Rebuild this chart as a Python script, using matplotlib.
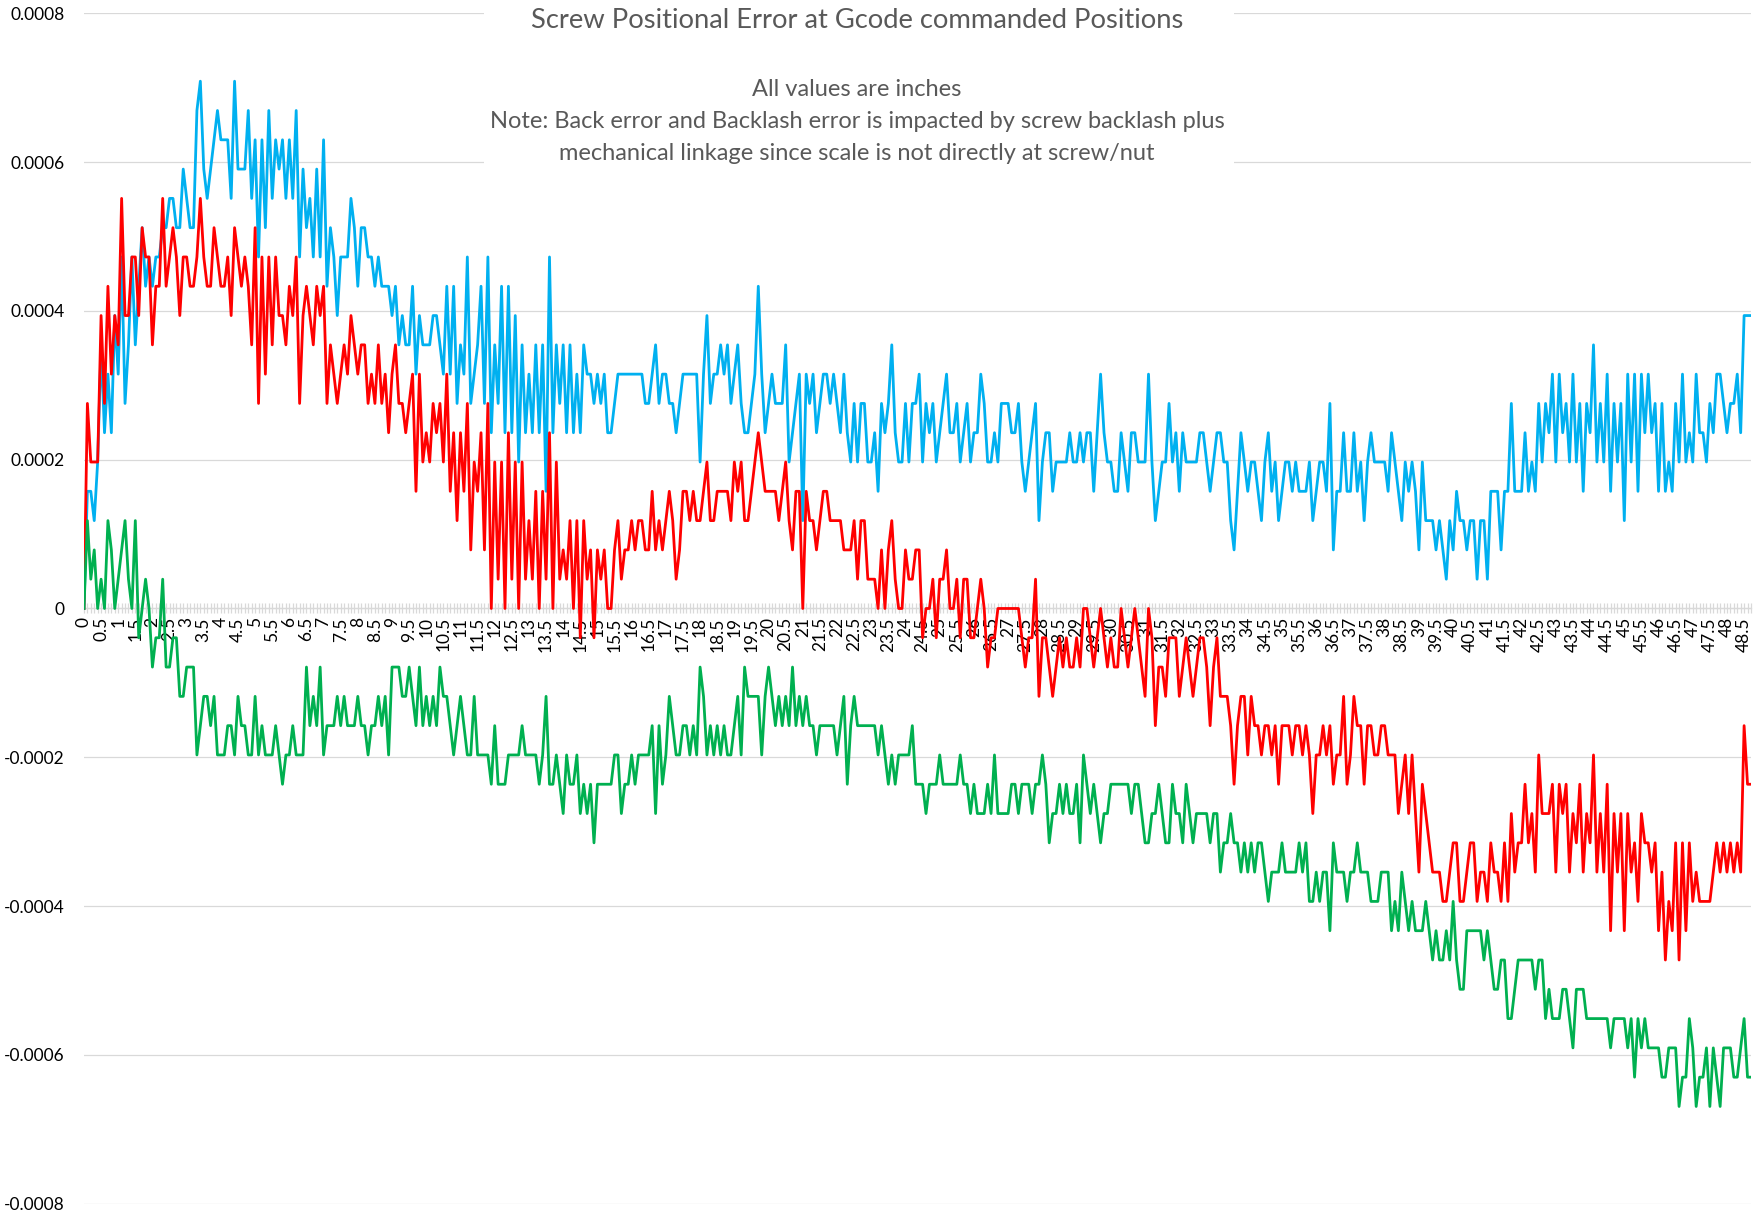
import numpy as np
import matplotlib
matplotlib.use("Agg")
import matplotlib.pyplot as plt
from matplotlib.patches import Rectangle
from matplotlib.ticker import FixedLocator, MultipleLocator

plt.rcParams['font.family'] = ['Lato', 'DejaVu Sans']

# positional error, in microns, one reading every 0.1 in
forward_um = [
    0, 4, 4, 3, 5, 9, 6, 8, 6, 10,
    8, 12, 7, 9, 12, 9, 11, 13, 11, 12,
    11, 12, 12, 13, 13, 14, 14, 13, 13, 15,
    14, 13, 13, 17, 18, 15, 14, 15, 16, 17,
    16, 16, 16, 14, 18, 15, 15, 15, 17, 14,
    16, 12, 16, 13, 17, 14, 16, 15, 16, 14,
    16, 14, 17, 12, 15, 13, 14, 12, 15, 12,
    16, 11, 13, 12, 10, 12, 12, 12, 14, 13,
    11, 13, 13, 12, 12, 11, 12, 11, 11, 11,
    10, 11, 9, 10, 9, 9, 11, 8, 10, 9,
    9, 9, 10, 10, 9, 8, 11, 8, 11, 7,
    9, 8, 12, 7, 8, 9, 11, 7, 12, 6,
    9, 7, 11, 6, 11, 6, 10, 5, 9, 6,
    8, 6, 9, 6, 9, 4, 12, 6, 9, 7,
    9, 6, 9, 6, 8, 6, 9, 8, 8, 7,
    8, 7, 8, 6, 6, 7, 8, 8, 8, 8,
    8, 8, 8, 8, 7, 7, 8, 9, 7, 8,
    8, 7, 7, 6, 7, 8, 8, 8, 8, 8,
    5, 8, 10, 7, 8, 8, 9, 8, 9, 7,
    8, 9, 7, 6, 6, 7, 8, 11, 8, 6,
    7, 8, 7, 7, 7, 9, 5, 6, 7, 8,
    3, 8, 7, 8, 6, 7, 8, 8, 7, 8,
    7, 6, 8, 6, 5, 7, 5, 7, 7, 5,
    5, 6, 4, 7, 6, 7, 9, 6, 5, 5,
    7, 5, 7, 7, 8, 5, 7, 6, 7, 5,
    6, 7, 8, 6, 6, 7, 5, 6, 7, 5,
    6, 6, 8, 7, 5, 5, 6, 5, 7, 7,
    7, 6, 6, 7, 5, 4, 5, 6, 7, 3,
    5, 6, 6, 4, 5, 5, 5, 5, 6, 5,
    5, 6, 5, 6, 6, 4, 6, 8, 6, 5,
    5, 4, 4, 6, 5, 4, 6, 6, 5, 5,
    5, 8, 5, 3, 4, 5, 5, 7, 5, 6,
    4, 6, 5, 5, 5, 5, 6, 6, 5, 4,
    5, 6, 6, 5, 5, 3, 2, 4, 6, 5,
    4, 5, 5, 4, 3, 5, 6, 4, 5, 3,
    4, 5, 5, 4, 5, 4, 4, 4, 5, 3,
    4, 5, 5, 4, 7, 2, 4, 4, 6, 4,
    4, 6, 4, 5, 3, 5, 6, 5, 5, 5,
    5, 4, 6, 5, 4, 3, 5, 4, 5, 4,
    2, 5, 3, 3, 3, 2, 3, 2, 1, 3,
    2, 4, 3, 3, 2, 3, 3, 1,
    3, 3, 1, 4, 4, 4, 2, 4, 4, 7,
    4, 4, 4, 6, 4, 5, 4, 7, 5, 7,
    6, 8, 5, 8, 6, 7, 5, 8, 5, 7,
    4, 7, 6, 9, 5, 7, 5, 8, 4, 7,
    5, 7, 3, 8, 5, 8, 4, 8, 6, 8,
    6, 7, 4, 7, 4, 5, 4, 7, 5, 8,
    5, 6, 5, 8, 6, 6, 5, 7, 6, 8,
    8, 7, 6, 7, 7, 8, 6, 10, 10, 10,
]

back_um = [
    0, 7, 5, 5, 5, 10, 7, 11, 8, 10,
    9, 14, 10, 10, 12, 12, 10, 13, 12, 12,
    9, 11, 11, 14, 11, 12, 13, 12, 10, 12,
    12, 11, 11, 12, 14, 12, 11, 11, 13, 12,
    11, 11, 12, 10, 13, 12, 11, 12, 11, 9,
    13, 7, 12, 8, 12, 9, 12, 10, 10, 9,
    11, 10, 12, 7, 10, 11, 10, 9, 11, 10,
    11, 7, 9, 8, 7, 8, 9, 8, 10, 9,
    8, 9, 9, 7, 8, 7, 9, 7, 8, 6,
    8, 9, 7, 7, 6, 7, 8, 4, 8, 5,
    6, 5, 7, 6, 7, 5, 8, 4, 6, 3,
    6, 4, 7, 2, 5, 4, 6, 2, 7, 0,
    5, 1, 5, 0, 6, 1, 5, 0, 5, 1,
    3, 1, 4, 0, 4, 1, 6, 0, 5, 1,
    2, 1, 3, 0, 3, -1, 3, 1, 2, -1,
    2, 1, 2, 0, 0, 2, 3, 1, 2, 2,
    3, 2, 3, 3, 2, 2, 4, 2, 3, 2,
    3, 4, 3, 1, 2, 4, 4, 3, 4, 3,
    3, 4, 5, 3, 3, 4, 4, 4, 4, 3,
    5, 4, 5, 3, 3, 4, 5, 6, 5, 4,
    4, 4, 4, 3, 4, 5, 3, 2, 4, 4,
    0, 4, 3, 3, 2, 3, 4, 4, 3, 3,
    3, 3, 2, 2, 2, 3, 1, 3, 3, 1,
    1, 1, 0, 2, 0, 2, 3, 1, 0, 0,
    2, 1, 1, 2, 2, -1, 0, 0, 1, -1,
    1, 1, 2, 0, 0, 1, -1, 1, 1, -1,
    -1, 0, 1, 0, -2, -1, -1, 0, 0, 0,
    0, 0, 0, 0, -1, -2, -1, -1, 1, -3,
    -1, -1, -2, -3, -2, -1, -2, -1, -2, -2,
    -1, -2, 0, 0, -1, -2, -1, 0, -1, -2,
    -1, -2, -2, 0, -1, -2, -1, 0, -1, -2,
    -3, 0, -1, -4, -2, -2, -3, -1, -1, -1,
    -3, -2, -1, -2, -3, -2, -1, -1, -2, -4,
    -2, -1, -3, -3, -3, -4, -6, -4, -3, -3,
    -5, -3, -4, -4, -5, -4, -4, -5, -4, -6,
    -4, -4, -4, -5, -4, -4, -5, -4, -5, -7,
    -5, -5, -4, -5, -4, -6, -5, -5, -3, -6,
    -5, -3, -4, -4, -6, -4, -4, -5, -5, -4,
    -4, -5, -5, -5, -7, -6, -5, -7, -5, -7,
    -9, -6, -7, -8, -9, -9, -9, -10, -10, -9,
    -8, -8, -10, -10, -9, -8, -8, -10,
    -9, -9, -10, -8, -9, -9, -10, -8, -10, -7,
    -9, -8, -8, -6, -8, -7, -9, -5, -7, -7,
    -7, -6, -9, -6, -7, -6, -9, -7, -8, -6,
    -9, -7, -8, -5, -9, -7, -9, -6, -11, -7,
    -9, -7, -11, -7, -9, -8, -10, -7, -8, -8,
    -9, -8, -11, -9, -12, -10, -11, -8, -12, -8,
    -11, -8, -10, -9, -10, -10, -10, -10, -9, -8,
    -9, -8, -9, -8, -9, -8, -9, -4, -6, -6,
]

backlash_um = [
    0, 3, 1, 2, 0, 1, 0, 3, 2, 0,
    1, 2, 3, 1, 0, 3, -1, 0, 1, 0,
    -2, -1, -1, 1, -2, -2, -1, -1, -3, -3,
    -2, -2, -2, -5, -4, -3, -3, -4, -3, -5,
    -5, -5, -4, -4, -5, -3, -4, -4, -5, -5,
    -3, -5, -4, -5, -5, -5, -4, -5, -6, -5,
    -5, -4, -5, -5, -5, -2, -4, -3, -4, -2,
    -5, -4, -4, -4, -3, -4, -3, -4, -4, -4,
    -3, -4, -4, -5, -4, -4, -3, -4, -3, -5,
    -2, -2, -2, -3, -3, -2, -3, -4, -2, -4,
    -3, -4, -3, -4, -2, -3, -3, -4, -5, -4,
    -3, -4, -5, -5, -3, -5, -5, -5, -5, -6,
    -4, -6, -6, -6, -5, -5, -5, -5, -4, -5,
    -5, -5, -5, -6, -5, -3, -6, -6, -5, -6,
    -7, -5, -6, -6, -5, -7, -6, -7, -6, -8,
    -6, -6, -6, -6, -6, -5, -5, -7, -6, -6,
    -5, -6, -5, -5, -5, -5, -4, -7, -4, -6,
    -5, -3, -4, -5, -5, -4, -4, -5, -4, -5,
    -2, -3, -5, -4, -5, -4, -5, -4, -5, -5,
    -4, -3, -5, -2, -3, -3, -3, -3, -5, -3,
    -2, -3, -4, -3, -4, -3, -4, -2, -4, -3,
    -4, -3, -4, -4, -5, -4, -4, -4, -4, -4,
    -5, -4, -3, -6, -4, -3, -4, -4, -4, -4,
    -4, -4, -5, -4, -5, -6, -5, -6, -5, -5,
    -5, -5, -4, -6, -6, -6, -7, -6, -6, -6,
    -5, -6, -6, -6, -6, -6, -5, -6, -6, -7,
    -6, -7, -7, -7, -6, -7, -5, -7, -7, -7,
    -7, -6, -6, -7, -6, -6, -6, -7, -6, -6,
    -5, -6, -8, -7, -7, -6, -7, -6, -7, -7,
    -6, -8, -5, -6, -7, -6, -7, -8, -7, -7,
    -6, -6, -6, -6, -6, -6, -7, -6, -6, -7,
    -8, -8, -7, -7, -6, -7, -8, -8, -6, -7,
    -7, -8, -6, -7, -8, -7, -7, -7, -7, -8,
    -7, -7, -9, -8, -8, -7, -8, -8, -9, -8,
    -9, -8, -9, -8, -8, -9, -10, -9, -9, -9,
    -8, -9, -9, -9, -9, -8, -9, -8, -10, -10,
    -9, -10, -9, -9, -11, -8, -9, -9, -9, -10,
    -9, -9, -8, -9, -9, -9, -10, -10, -10, -9,
    -9, -9, -11, -10, -11, -9, -10, -11, -10, -11,
    -11, -11, -10, -11, -12, -11, -12, -12, -11, -12,
    -10, -12, -13, -13, -11, -11, -11, -11,
    -11, -12, -11, -12, -13, -13, -12, -12, -14, -14,
    -13, -12, -12, -12, -12, -12, -13, -12, -12, -14,
    -13, -14, -14, -14, -13, -13, -14, -15, -13, -13,
    -13, -14, -14, -14, -14, -14, -14, -14, -15, -14,
    -14, -14, -14, -15, -14, -16, -14, -15, -14, -15,
    -15, -15, -15, -16, -16, -15, -15, -15, -17, -16,
    -16, -14, -15, -17, -16, -16, -15, -17, -15, -16,
    -17, -15, -15, -15, -16, -16, -15, -14, -16, -16,
]

y_ticks = [0.0008, 0.0006, 0.0004, 0.0002, 0, -0.0002, -0.0004, -0.0006, -0.0008]
y_labels = ["0.0008", "0.0006", "0.0004", "0.0002", "0",
            "-0.0002", "-0.0004", "-0.0006", "-0.0008"]

title = "Screw Positional Error at Gcode commanded Positions"
notes = ["All values are inches",
         "Note: Back error and Backlash error is impacted by screw backlash plus",
         "mechanical linkage since scale is not directly at screw/nut"]

UM_TO_IN = 1 / 25400.0
grid_c = "#d9d9d9"
text_c = "#595959"

fig = plt.figure(figsize=(17.64, 12.16), dpi=100)
ax = fig.add_axes([0.0476, 0.0101, 0.945, 0.979])

series = [(forward_um, "#00b0f0"), (back_um, "#ff0000"), (backlash_um, "#00b050")]
for vals, col in series:
    y = np.array(vals) * UM_TO_IN
    ax.plot(np.arange(len(y)), y, color=col, lw=2.0, solid_joinstyle="round", zorder=3)

n = len(forward_um)
ax.set_xlim(0, n - 1)
ax.set_ylim(-0.0008, 0.0008)

for s in ["top", "right", "left"]:
    ax.spines[s].set_visible(False)
ax.spines["bottom"].set_position(("data", 0))
ax.spines["bottom"].set_color(grid_c)
ax.spines["bottom"].set_linewidth(0.9)

ax.set_yticks(y_ticks)
ax.set_yticklabels(y_labels)
ax.yaxis.grid(True, color=grid_c, lw=0.9)
ax.set_axisbelow(True)

major = list(range(0, n, 5))
ax.xaxis.set_major_locator(FixedLocator(major))
ax.xaxis.set_minor_locator(MultipleLocator(1))
ax.set_xticklabels([f"{i / 10:g}" for i in major])

ax.tick_params(axis="y", length=0, pad=14, labelsize=12.5, labelcolor="black")
ax.tick_params(axis="x", which="both", direction="inout", length=6.5, width=0.9,
               color=grid_c, pad=3, labelsize=12.5, labelcolor="black",
               labelrotation=90)

# white panel behind the title block (hides the gridlines there)
ax.add_patch(Rectangle((484 / 1764, 1 - 175 / 1216), 750 / 1764, 175 / 1216,
                       transform=fig.transFigure, facecolor="white",
                       edgecolor="none", zorder=2, clip_on=False))

fig.text(857 / 1764, 1 - 21 / 1216, title, ha="center", va="center",
         fontsize=19.7, color=text_c)
for k, line in enumerate(notes):
    fig.text(857 / 1764, 1 - (90 + 31.5 * k) / 1216, line, ha="center", va="center",
             fontsize=17, color=text_c)

fig.savefig("out.png", dpi=100, facecolor="white")
